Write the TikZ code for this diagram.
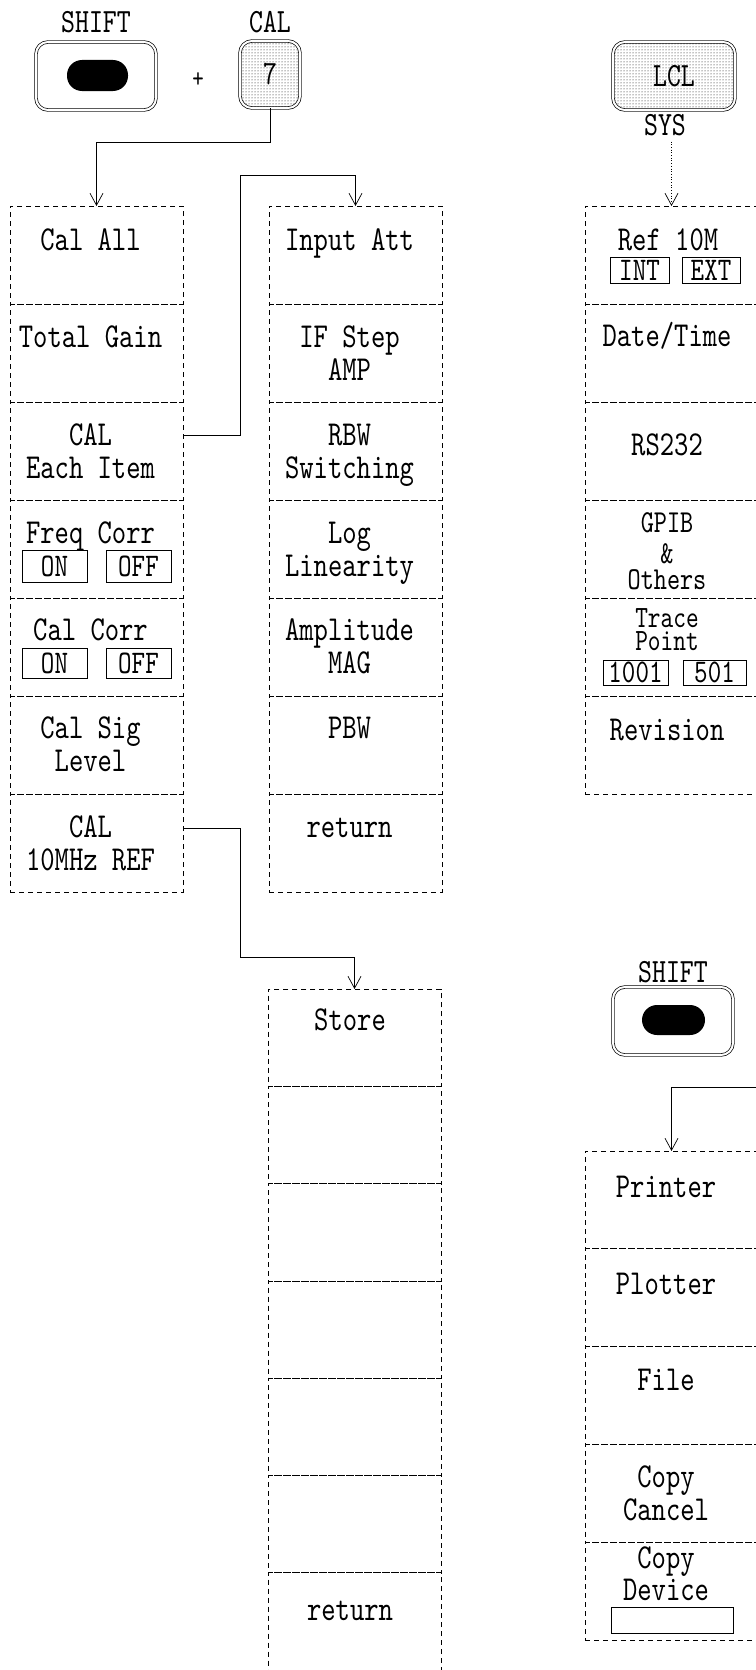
\documentclass[tikz,border=0pt]{standalone}
\usepackage{fontspec}
\newfontfamily\panelfont{lmmono10-regular.otf}[FakeStretch=0.78]
\usetikzlibrary{arrows.meta,patterns}
\tikzset{
  menurow/.style={draw,line width=0.7pt,dash pattern=on 5pt off 4pt,minimum width=173pt,minimum height=98pt,anchor=north west,inner sep=0pt,outer sep=0pt},
  menutext/.style={font=\panelfont\fontsize{35}{33}\selectfont,anchor=base,inner sep=0pt,align=center},
  togbox/.style={draw,line width=0.6pt,inner sep=0pt,minimum height=30pt,font=\panelfont\fontsize{33}{33}\selectfont},
  keybox/.style={draw,line width=0.7pt,double,double distance=2pt,rounded corners=12pt,minimum width=120pt,minimum height=68pt,inner sep=0pt,font=\panelfont\fontsize{34}{34}\selectfont},
  keydot/.style={fill=black,rounded corners=15pt,minimum width=61pt,minimum height=31pt,inner sep=0pt},
  keylabel/.style={font=\panelfont\fontsize{34}{34}\selectfont,anchor=base,inner sep=0pt},
  conn/.style={line width=0.7pt,-{Straight Barb[length=12pt,width=13pt]}}
}
\begin{document}
\begin{tikzpicture}[x=1pt,y=-1pt]
\useasboundingbox (0,0) rectangle (755,1670);
% keys
\node[keybox] (shiftkey) at (96,76) {};
\node[keydot] (shiftdot) at (97.5,75.5) {};
\node[keylabel] (shiftlbl) at (96,33) {SHIFT};
\node[keylabel,font=\panelfont\fontsize{28}{28}\selectfont] (plus) at (198,88) {+};
\node[keybox,pattern=dots,minimum width=60pt,minimum height=67pt] (calkey) at (270,74.5) {7};
\node[keylabel] (callbl) at (270,33) {CAL};
\node[keybox,pattern=dots,minimum width=122pt] (lclkey) at (674,76) {LCL};
\node[keylabel] (syslbl) at (665,135) {SYS};
\node[keybox] (shiftkey2) at (673,1021) {};
\node[keydot,minimum width=63pt,minimum height=30pt] (shiftdot2) at (673.5,1020) {};
\node[keylabel] (shiftlbl2) at (673,982) {SHIFT};
% CAL menu
\node[menurow] (calall) at (10,206) {};
\node[menurow] (totgain) at (10,304) {};
\node[menurow] (calitem) at (10,402) {};
\node[menurow] (freqcorr) at (10,500) {};
\node[menurow] (calcorr) at (10,598) {};
\node[menurow] (siglevel) at (10,696) {};
\node[menurow] (calref) at (10,794) {};
\node[menutext] (calallt) at (90.5,250) {Cal All};
\node[menutext] (totgaint) at (90.5,347) {Total Gain};
\node[menutext] (calitemt) at (90.5,478) {CAL\\Each Item};
\node[menutext] (freqcorrt) at (90.5,543) {Freq Corr};
\node[togbox,minimum width=65pt,minimum height=32pt] (fqon) at (54.5,566) {ON};
\node[togbox,minimum width=65pt,minimum height=32pt] (fqoff) at (138.5,566) {OFF};
\node[menutext] (calcorrt) at (90.5,640) {Cal Corr};
\node[togbox,minimum width=65pt] (ccon) at (54.5,663) {ON};
\node[togbox,minimum width=65pt] (ccoff) at (138.5,663) {OFF};
\node[menutext] (siglevelt) at (90.5,771) {Cal Sig\\Level};
\node[menutext] (calreft) at (90.5,870) {CAL\\10MHz REF};
% each item menu
\node[menurow] (inatt) at (269,206) {};
\node[menurow] (ifstep) at (269,304) {};
\node[menurow] (rbwsw) at (269,402) {};
\node[menurow] (loglin) at (269,500) {};
\node[menurow] (ampmag) at (269,598) {};
\node[menurow] (pbw) at (269,696) {};
\node[menurow] (ret1) at (269,794) {};
\node[menutext] (inattt) at (349.5,250) {Input Att};
\node[menutext] (ifstept) at (349.5,380) {IF Step\\AMP};
\node[menutext] (rbwswt) at (349.5,478) {RBW\\Switching};
\node[menutext] (loglint) at (349.5,576) {Log\\Linearity};
\node[menutext] (ampmagt) at (349.5,673) {Amplitude\\MAG};
\node[menutext] (pbwt) at (349.5,738) {PBW};
\node[menutext] (ret1t) at (349.5,837) {return};
% SYS menu
\node[menurow] (ref10m) at (585,206) {};
\node[menurow] (datetime) at (585,304) {};
\node[menurow] (rs232) at (585,402) {};
\node[menurow] (gpib) at (585,500) {};
\node[menurow] (trace) at (585,598) {};
\node[menurow] (revision) at (585,696) {};
\node[menutext] (ref10mt) at (668,250) {Ref 10M};
\node[togbox,minimum width=59pt,minimum height=26pt] (refint) at (639.5,270) {INT};
\node[togbox,minimum width=58pt,minimum height=26pt] (refext) at (711,270) {EXT};
\node[menutext] (datetimet) at (667,346) {Date/Time};
\node[menutext] (rs232t) at (667,455) {RS232};
\node[menutext,font=\panelfont\fontsize{32}{31}\selectfont] (gpibt) at (667,589) {GPIB\\\&\\[-5pt]Others};
\node[menutext,font=\panelfont\fontsize{31}{31}\selectfont] (tracet) at (667,650) {Trace\\[-8pt]Point};
\node[togbox,minimum width=65pt,minimum height=25pt] (tr1001) at (635.5,672.5) {1001};
\node[togbox,minimum width=63pt,minimum height=25pt] (tr501) at (714.5,672.5) {501};
\node[menutext] (revisiont) at (667,740) {Revision};
% REF menu
\node[menurow,minimum height=97.3pt] (store) at (268,989) {};
\node[menurow,minimum height=97.3pt] (blank1) at (268,1086.3) {};
\node[menurow,minimum height=97.3pt] (blank2) at (268,1183.6) {};
\node[menurow,minimum height=97.3pt] (blank3) at (268,1280.9) {};
\node[menurow,minimum height=97.3pt] (blank4) at (268,1378.2) {};
\node[menurow,minimum height=97.3pt] (blank5) at (268,1475.5) {};
\node[menurow,minimum height=97.3pt] (ret2) at (268,1572.8) {};
\node[menutext] (storet) at (350,1030) {Store};
\node[menutext] (ret2t) at (350,1620) {return};
% copy menu
\node[menurow,minimum height=97.8pt] (printer) at (585,1151) {};
\node[menurow,minimum height=97.8pt] (plotter) at (585,1248.8) {};
\node[menurow,minimum height=97.8pt] (file) at (585,1346.6) {};
\node[menurow,minimum height=97.8pt] (cancel) at (585,1444.4) {};
\node[menurow,minimum height=97.8pt] (device) at (585,1542.2) {};
\node[menutext] (printert) at (666,1197) {Printer};
\node[menutext] (plottert) at (666,1294) {Plotter};
\node[menutext] (filet) at (666,1390) {File};
\node[menutext] (cancelt) at (666,1520) {Copy\\Cancel};
\node[menutext] (devicet) at (666,1600) {Copy\\[-1pt]Device};
\node[togbox,minimum width=122pt,minimum height=26pt] (devbox) at (672,1620) {};
% connectors
\draw[conn] (calkey.south) -- ++(0,34) -| (calall.north);
\draw[conn] ([yshift=16pt]calitem.east) -- ++(57,0) |- ([yshift=31pt]inatt.north) -- (inatt.north);
\draw[conn] ([yshift=15pt]calref.east) -- ++(57,0) |- ([yshift=32pt]store.north) -- (store.north);
\draw[conn,dotted] ([yshift=-6pt]syslbl.south -| ref10m.north) -- (ref10m.north);
\coordinate (offpage) at (760,1087);
\draw[conn] (offpage) -| (printer.north);
\end{tikzpicture}
\end{document}
